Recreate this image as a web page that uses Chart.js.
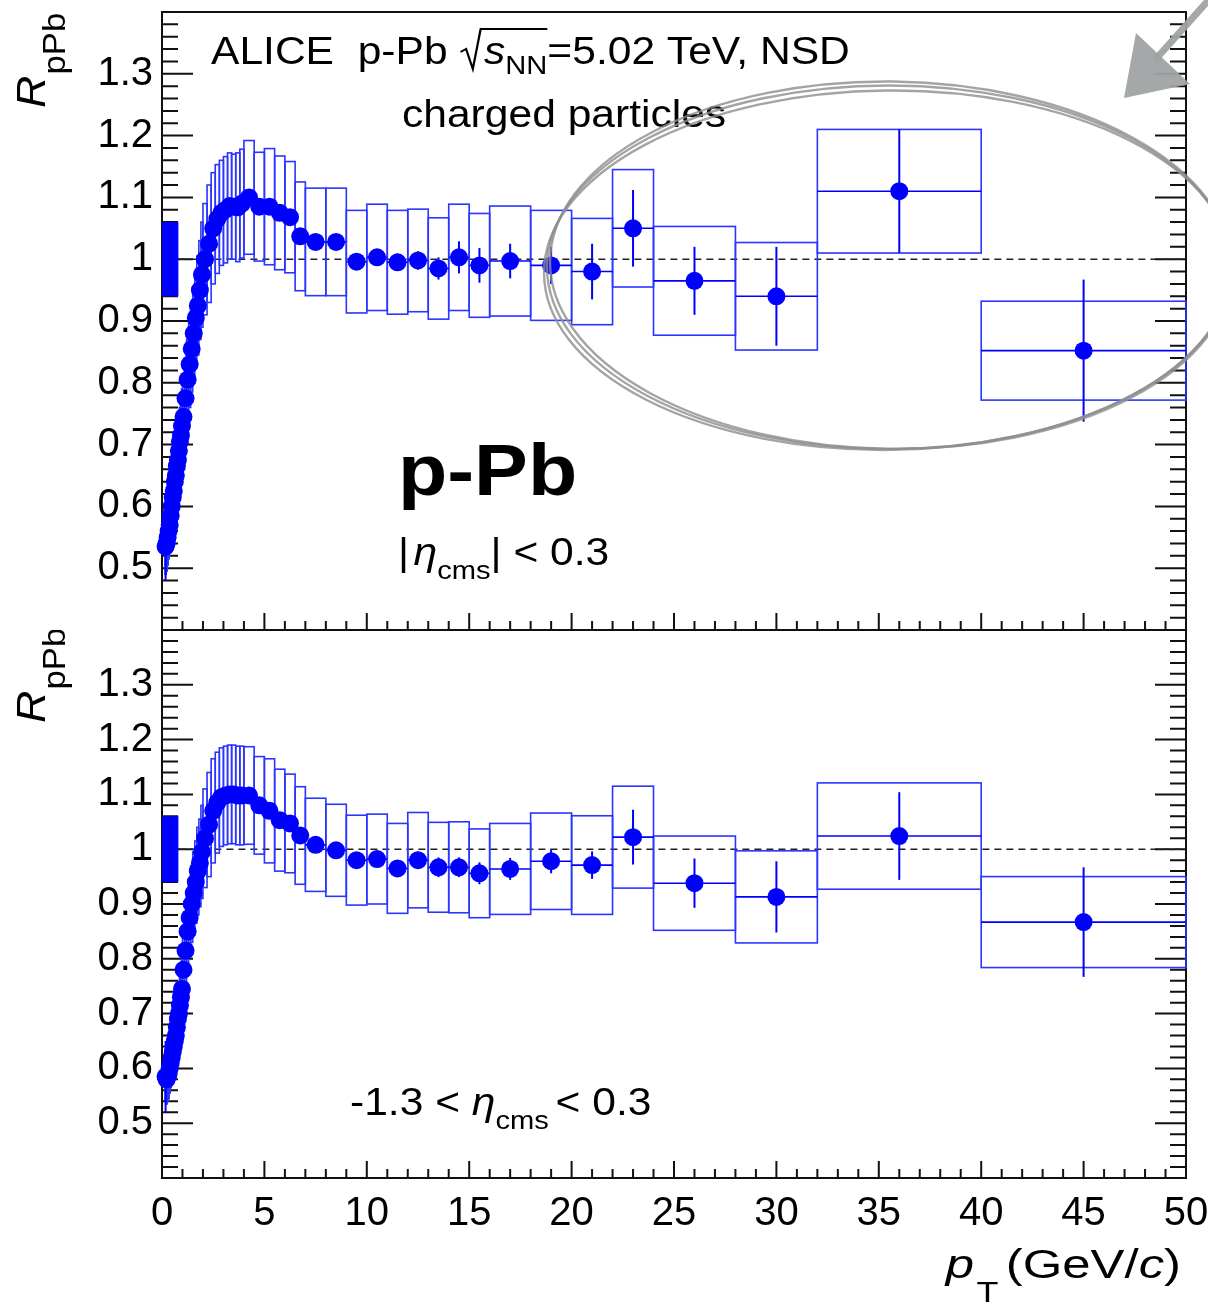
<!DOCTYPE html>
<html>
<head>
<meta charset="utf-8">
<script src="https://cdn.jsdelivr.net/npm/chart.js@4.4.0/dist/chart.umd.min.js"></script>
<style>
  html, body { margin: 0; padding: 0; background: #fff; }
  #wrap { position: relative; width: 1208px; height: 1303px; overflow: hidden; background: #fff; }
  canvas { position: absolute; left: 0; }
  #topPanel { top: 0; }
  #botPanel { top: 630px; }
</style>
</head>
<body>
<div id="wrap">
  <canvas id="botPanel" width="1208" height="673"></canvas>
  <canvas id="topPanel" width="1208" height="640"></canvas>
</div>
<script>
// pT bin edges (GeV/c)
const ptEdges = [0.15,0.2,0.25,0.3,0.35,0.4,0.45,0.5,0.55,0.6,0.65,0.7,0.75,0.8,0.85,0.9,0.95,1.0,
  1.1,1.2,1.3,1.4,1.5,1.6,1.7,1.8,1.9,2.0,2.2,2.4,2.6,2.8,3.0,3.2,3.4,3.6,3.8,4.0,
  4.5,5.0,5.5,6.0,6.5,7.0,8,9,10,11,12,13,14,15,16,18,20,22,24,28,32,40,50];

// R_pPb, |eta_cms| < 0.3 (top panel)
const rppbMid = [0.535,0.54,0.55,0.56,0.57,0.585,0.60,0.615,0.625,0.64,0.65,0.665,0.675,0.69,0.705,0.715,0.73,
  0.745,0.775,0.805,0.83,0.855,0.88,0.905,0.925,0.95,0.975,
  1.0,1.025,1.05,1.065,1.075,1.08,1.086,1.085,1.084,1.09,
  1.10,1.085,1.085,1.075,1.068,1.037,
  1.028,1.028,0.996,1.003,0.995,0.998,0.985,1.003,0.99,
  0.997,0.99,0.98,1.05,0.965,0.94,1.11,0.852];
const statMid = [0.055,0.01,0.004,0.004,0.004,0.004,0.004,0.004,0.004,0.004,0.004,0.004,0.004,0.004,0.004,0.004,0.004,
  0.004,0.004,0.004,0.004,0.004,0.004,0.004,0.004,0.004,0.004,
  0.004,0.004,0.004,0.004,0.004,0.004,0.004,0.004,0.004,0.004,
  0.005,0.005,0.006,0.006,0.007,0.008,
  0.008,0.009,0.01,0.012,0.014,0.015,0.018,0.026,0.028,
  0.028,0.03,0.045,0.062,0.055,0.08,0.1,0.115];
const sysMid = [0.045,0.045,0.045,0.045,0.045,0.045,0.045,0.05,0.05,0.05,0.05,0.05,0.055,0.055,0.055,0.055,0.06,
  0.06,0.065,0.065,0.07,0.07,0.075,0.075,0.08,0.08,0.085,
  0.09,0.095,0.09,0.088,0.085,0.086,0.086,0.085,0.088,0.088,
  0.092,0.088,0.094,0.092,0.09,0.088,
  0.087,0.087,0.083,0.086,0.084,0.083,0.082,0.086,0.084,
  0.089,0.089,0.086,0.095,0.088,0.087,0.1,0.08];

// R_pPb, -1.3 < eta_cms < 0.3 (bottom panel)
const rppbWide = [0.585,0.58,0.585,0.59,0.60,0.61,0.62,0.63,0.64,0.65,0.66,0.675,0.69,0.70,0.715,0.73,0.745,
  0.78,0.815,0.85,0.875,0.90,0.92,0.94,0.96,0.975,0.995,
  1.02,1.045,1.07,1.085,1.095,1.098,1.1,1.1,1.098,1.098,
  1.098,1.08,1.07,1.053,1.047,1.025,
  1.008,0.998,0.98,0.982,0.965,0.98,0.967,0.967,0.956,
  0.964,0.978,0.971,1.022,0.938,0.913,1.024,0.867];
const statWide = [0.065,0.01,0.004,0.004,0.004,0.004,0.004,0.004,0.004,0.004,0.004,0.004,0.004,0.004,0.004,0.004,0.004,
  0.004,0.004,0.004,0.004,0.004,0.004,0.004,0.004,0.004,0.004,
  0.004,0.004,0.004,0.004,0.004,0.004,0.004,0.004,0.004,0.004,
  0.005,0.005,0.006,0.006,0.006,0.007,
  0.008,0.009,0.01,0.012,0.015,0.016,0.018,0.018,0.02,
  0.02,0.022,0.025,0.05,0.045,0.065,0.08,0.1];
const sysWide = [0.045,0.045,0.045,0.045,0.045,0.045,0.045,0.05,0.05,0.05,0.05,0.05,0.055,0.055,0.055,0.055,0.06,
  0.06,0.065,0.065,0.07,0.07,0.075,0.075,0.08,0.08,0.085,
  0.09,0.095,0.095,0.092,0.09,0.09,0.09,0.09,0.09,0.09,
  0.089,0.089,0.095,0.093,0.09,0.089,
  0.085,0.084,0.082,0.082,0.082,0.087,0.082,0.083,0.081,
  0.083,0.088,0.09,0.093,0.086,0.084,0.097,0.083];

const normUnc = 0.06;      // normalisation uncertainty, box drawn at R = 1
const normBoxWidth = 0.8;  // in pT units
const yRange = [0.4, 1.4];
const xRange = [0, 50];

const BLUE = '#0000ff';
const BOX_BLUE = '#2a35ff';
const FONT = '"Liberation Sans", Arial, Helvetica, sans-serif';
const SX = 1.12; // text in the figure is a bit wider than plain Helvetica

// draws a run of text pieces (sub/superscripts, italics, sqrt) from x,y baseline
function drawRich(ctx, x, y, parts, opts = {}) {
  const sx = opts.sx || SX;
  ctx.save();
  ctx.fillStyle = '#000';
  ctx.textBaseline = 'alphabetic';
  ctx.textAlign = 'left';
  let total = 0;
  for (const p of parts) {
    if (p.sqrt) {
      total += 22;
      for (const q of p.sqrt) { ctx.font = q.f; total += ctx.measureText(q.t).width + (q.gap || 0); }
    } else {
      ctx.font = p.f; total += ctx.measureText(p.t).width + (p.gap || 0);
    }
  }
  ctx.translate(x - (opts.align === 'right' ? total * sx : 0), y);
  if (opts.rotate) ctx.rotate(opts.rotate);
  ctx.scale(sx, 1);
  let cx = 0;
  for (const p of parts) {
    if (p.sqrt) {
      const x0 = cx;
      cx += 22;
      for (const q of p.sqrt) {
        ctx.font = q.f;
        ctx.fillText(q.t, cx, q.dy || 0);
        cx += ctx.measureText(q.t).width + (q.gap || 0);
      }
      ctx.strokeStyle = '#000';
      ctx.lineWidth = 2;
      ctx.beginPath();
      ctx.moveTo(x0 + 1, -12);
      ctx.lineTo(x0 + 6, -15);
      ctx.lineTo(x0 + 12, 5);
      ctx.lineTo(x0 + 19, -35);
      ctx.lineTo(cx, -35);
      ctx.stroke();
    } else {
      ctx.font = p.f;
      ctx.fillText(p.t, cx, p.dy || 0);
      cx += ctx.measureText(p.t).width + (p.gap || 0);
    }
  }
  ctx.restore();
}

function drawRAxisTitle(ctx, x, y) {
  drawRich(ctx, x, y, [
    { t: 'R', f: `italic 40px ${FONT}`, gap: 1 },
    { t: 'pPb', f: `31px ${FONT}`, dy: 20 }
  ], { rotate: -Math.PI / 2 });
}

function makeDecor(panel) {
  return {
    id: 'decor' + panel.name,
    beforeDatasetsDraw(chart) {
      const { ctx, chartArea: a, scales: { x, y } } = chart;
      ctx.save();
      // ROOT-style frame with inner ticks
      ctx.strokeStyle = '#111';
      ctx.lineWidth = 2;
      ctx.strokeRect(a.left, a.top, a.right - a.left, a.bottom - a.top);
      ctx.beginPath();
      for (let k = 20; k <= 70; k++) {
        const py = y.getPixelForValue(k * 0.02);
        const len = k % 5 === 0 ? 31 : 16;
        ctx.moveTo(a.left, py); ctx.lineTo(a.left + len, py);
        ctx.moveTo(a.right, py); ctx.lineTo(a.right - len, py);
      }
      for (let v = xRange[0]; v <= xRange[1]; v++) {
        const px = x.getPixelForValue(v);
        const len = v % 5 === 0 ? 17 : 9;
        ctx.moveTo(px, a.bottom); ctx.lineTo(px, a.bottom - len);
      }
      ctx.stroke();

      // normalisation box
      ctx.fillStyle = BLUE;
      const nx0 = x.getPixelForValue(0), nx1 = x.getPixelForValue(normBoxWidth);
      const ny0 = y.getPixelForValue(1 + normUnc), ny1 = y.getPixelForValue(1 - normUnc);
      ctx.fillRect(nx0, ny0, nx1 - nx0, ny1 - ny0);

      // dashed line at 1
      ctx.strokeStyle = '#222';
      ctx.lineWidth = 1.6;
      ctx.setLineDash([7, 5]);
      ctx.beginPath();
      ctx.moveTo(nx1, y.getPixelForValue(1));
      ctx.lineTo(x.getPixelForValue(xRange[1]), y.getPixelForValue(1));
      ctx.stroke();
      ctx.setLineDash([]);

      // systematic boxes
      ctx.strokeStyle = BOX_BLUE;
      ctx.lineWidth = 1.6;
      panel.vals.forEach((v, i) => {
        const lo = x.getPixelForValue(ptEdges[i]), hi = x.getPixelForValue(ptEdges[i + 1]);
        const t = y.getPixelForValue(v + panel.sys[i]), b = y.getPixelForValue(v - panel.sys[i]);
        ctx.strokeRect(lo, t, hi - lo, b - t);
      });

      // stat errors + bin width
      ctx.strokeStyle = BLUE;
      panel.vals.forEach((v, i) => {
        const lo = x.getPixelForValue(ptEdges[i]), hi = x.getPixelForValue(ptEdges[i + 1]);
        const c = x.getPixelForValue((ptEdges[i] + ptEdges[i + 1]) / 2);
        const py = y.getPixelForValue(v);
        ctx.lineWidth = 1.6;
        ctx.beginPath(); ctx.moveTo(lo, py); ctx.lineTo(hi, py); ctx.stroke();
        ctx.lineWidth = 2;
        ctx.beginPath();
        ctx.moveTo(c, y.getPixelForValue(v + panel.stat[i]));
        ctx.lineTo(c, y.getPixelForValue(v - panel.stat[i]));
        ctx.stroke();
      });
      ctx.restore();
    },
    afterDraw(chart) {
      const { ctx, chartArea: a, scales: { x, y } } = chart;
      ctx.save();
      panel.texts(ctx, a, x, y);
      ctx.restore();
    }
  };
}

function topTexts(ctx, a, x, y) {
  drawRAxisTitle(ctx, 45, 108);
  drawRich(ctx, 211, 64, [
    { t: 'ALICE  p-Pb ', f: `38px ${FONT}` },
    { sqrt: [{ t: 's', f: `italic 38px ${FONT}` }, { t: 'NN', f: `26px ${FONT}`, dy: 10 }] },
    { t: '=5.02 TeV, NSD', f: `38px ${FONT}` }
  ]);
  drawRich(ctx, 402, 127, [{ t: 'charged particles', f: `38px ${FONT}` }]);
  drawRich(ctx, 398, 495, [{ t: 'p-Pb', f: `bold 72px ${FONT}` }]);
  drawRich(ctx, 398, 565, [
    { t: '|', f: `38px ${FONT}`, gap: 4 },
    { t: 'η', f: `italic 38px ${FONT}` },
    { t: 'cms', f: `26px ${FONT}`, dy: 14 },
    { t: '| < 0.3', f: `38px ${FONT}` }
  ]);

  // hand-drawn highlight ellipse, placed in data units
  const cx = x.getPixelForValue(35.5), cy = y.getPixelForValue(0.987);
  const rx = x.getPixelForValue(35.5 + 16.7) - cx;
  const ry = cy - y.getPixelForValue(0.987 + 0.294);
  ctx.strokeStyle = 'rgba(140,142,142,0.8)';
  ctx.lineWidth = 2.4;
  [[0, 0, 0, 0, 0], [2, -2, -1, 2, 0.012], [-1, 3, 2, -2, -0.01]].forEach(([dx, dy, drx, dry, rot]) => {
    ctx.beginPath();
    ctx.ellipse(cx + dx, cy + dy, rx + drx, ry + dry, rot, 0, Math.PI * 2);
    ctx.stroke();
  });

  // grey arrow pointing at the ellipse
  ctx.strokeStyle = 'rgba(160,163,163,0.95)';
  ctx.fillStyle = 'rgba(160,163,163,0.95)';
  ctx.lineWidth = 7;
  ctx.beginPath();
  ctx.moveTo(1214, -6);
  ctx.lineTo(1155, 60);
  ctx.stroke();
  ctx.beginPath();
  ctx.moveTo(1136, 33);
  ctx.lineTo(1190, 84);
  ctx.lineTo(1124, 98);
  ctx.closePath();
  ctx.fill();
}

function botTexts(ctx, a, x, y) {
  drawRAxisTitle(ctx, 45, 93);
  drawRich(ctx, 350, 485, [
    { t: '-1.3 < ', f: `38px ${FONT}` },
    { t: 'η', f: `italic 38px ${FONT}` },
    { t: 'cms', f: `26px ${FONT}`, dy: 14, gap: 6 },
    { t: '< 0.3', f: `38px ${FONT}` }
  ]);
  drawRich(ctx, 1181, 648, [
    { t: 'p', f: `italic 41px ${FONT}`, gap: 2 },
    { t: 'T', f: `29px ${FONT}`, dy: 24, gap: 6 },
    { t: '(GeV/', f: `41px ${FONT}` },
    { t: 'c', f: `italic 41px ${FONT}` },
    { t: ')', f: `41px ${FONT}` }
  ], { align: 'right', sx: 1.24 });
}

function yAxis() {
  return {
    type: 'linear',
    min: yRange[0], max: yRange[1],
    grid: { display: false, drawTicks: false },
    border: { display: false },
    ticks: {
      stepSize: 0.1,
      autoSkip: false,
      padding: 9,
      color: '#000',
      font: { family: 'Liberation Sans', size: 40 },
      callback: v => (v < 0.45 || v > 1.35) ? '' : String(Number(v.toFixed(1)))
    },
    afterFit(scale) { scale.width = 162; scale.paddingTop = 0; scale.paddingBottom = 0; }
  };
}

function makePanel(canvasId, vals, stat, sys, texts, showX, padding) {
  const points = vals.map((v, i) => ({ x: (ptEdges[i] + ptEdges[i + 1]) / 2, y: v }));
  return new Chart(document.getElementById(canvasId), {
    type: 'scatter',
    data: {
      datasets: [{
        data: points,
        pointRadius: 9,
        pointHoverRadius: 9,
        pointBackgroundColor: BLUE,
        pointBorderWidth: 0,
        showLine: false,
        clip: false
      }]
    },
    options: {
      responsive: false,
      animation: false,
      events: [],
      layout: { padding, autoPadding: false },
      plugins: { legend: { display: false }, tooltip: { enabled: false } },
      scales: {
        x: {
          type: 'linear',
          display: showX,
          min: xRange[0], max: xRange[1],
          grid: { display: false, drawTicks: false },
          border: { display: false },
          ticks: {
            stepSize: 5,
            autoSkip: false,
            maxRotation: 0,
            padding: 12,
            color: '#000',
            font: { family: 'Liberation Sans', size: 40 }
          },
          afterFit(scale) {
            scale.height = showX ? 125 : 0;
            scale.paddingLeft = 0;
            scale.paddingRight = 0;
          }
        },
        y: yAxis()
      }
    },
    plugins: [makeDecor({ name: canvasId, vals, stat, sys, texts })]
  });
}

makePanel('topPanel', rppbMid, statMid, sysMid, topTexts, false, { top: 12, right: 22, bottom: 10, left: 0 });
makePanel('botPanel', rppbWide, statWide, sysWide, botTexts, true, { top: 0, right: 22, bottom: 0, left: 0 });
</script>
</body>
</html>
